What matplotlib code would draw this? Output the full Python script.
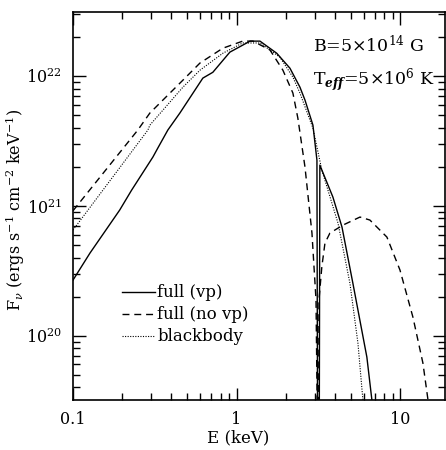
import numpy as np
import matplotlib
matplotlib.use("Agg")
from matplotlib import pyplot as plt
from matplotlib.ticker import FixedLocator, FixedFormatter, LogLocator, NullFormatter

plt.rcParams['font.family'] = ['DejaVu Serif']
plt.rcParams['mathtext.fontset'] = 'dejavuserif'

# full (vp) spectrum, with the narrow resonance notch near 3.2 keV
E_vp = [0.1, 0.127, 0.193, 0.228, 0.308, 0.33, 0.38, 0.45, 0.622, 0.716, 0.91,
        1.21, 1.39, 1.76, 2.12, 2.44, 2.62, 2.93, 3.10, 3.13, 3.20,
        3.23, 3.88, 4.41, 5.14, 6.26, 6.72, 7.0]
F_vp = [2.68e20, 4.33e20, 9.29e20, 1.32e21, 2.38e21, 2.79e21, 3.84e21, 5.19e21,
        9.65e21, 1.07e22, 1.53e22, 1.86e22, 1.86e22, 1.50e22, 1.15e22, 8.22e21,
        6.53e21, 4.19e21, 2.25e21, 1e19, 1e19,
        2.06e21, 1.17e21, 6.87e20, 2.54e20, 6.84e19, 3.19e19, 1.5e19]

# full (no vp) spectrum
E_novp = [0.1, 0.249, 0.295, 0.47, 0.597, 0.824, 1.09, 1.26, 1.60, 1.92, 2.21,
          2.37, 2.62, 2.89, 3.06, 3.14, 3.17,
          3.19, 3.32, 3.47, 3.72, 4.47, 5.68, 6.53, 8.30, 9.98, 11.97, 13.78,
          14.8, 15.5]
F_novp = [9.17e20, 3.84e21, 5.19e21, 9.31e21, 1.26e22, 1.64e22, 1.86e22,
          1.86e22, 1.59e22, 1.11e22, 7.40e21, 4.74e21, 1.99e21, 6.17e20,
          1.88e20, 1e19, 1e19,
          1.88e20, 3.38e20, 5.16e20, 6.17e20, 7.11e20, 8.20e20, 7.78e20,
          5.75e20, 3.20e20, 1.39e20, 6.15e19, 3.2e19, 1.2e19]

# blackbody
E_bb = [0.1, 0.287, 0.295, 0.47, 0.597, 0.824, 1.09, 1.39, 1.84, 2.21, 2.44,
        2.93, 3.32, 4.17, 4.93, 5.52, 5.92, 6.2]
F_bb = [6.51e20, 3.84e21, 4.19e21, 8.22e21, 1.11e22, 1.50e22, 1.80e22, 1.80e22,
        1.40e22, 9.82e21, 7.40e21, 3.97e21, 1.89e21, 7.36e20, 2.54e20, 8.77e19,
        3.2e19, 1.5e19]

x_ticks = [0.1, 1, 10]
x_ticklabels = ["0.1", "1", "10"]

fig = plt.figure(figsize=(4.46, 4.5), dpi=100)
ax = fig.add_axes([0.1637, 0.111, 0.834, 0.862])

ax.plot(E_vp, F_vp, color='black', lw=1.0, label='full (vp)')
ax.plot(E_novp, F_novp, color='black', lw=1.0, linestyle=(0, (5, 3.5)),
        label='full (no vp)')
ax.plot(E_bb, F_bb, color='black', lw=0.8, linestyle=(0, (1, 1.3)),
        label='blackbody')

ax.set_xscale('log')
ax.set_yscale('log')
ax.set_xlim(0.1, 18.8)
ax.set_ylim(3.19e19, 3.11e22)

ax.xaxis.set_major_locator(FixedLocator(x_ticks))
ax.xaxis.set_major_formatter(FixedFormatter(x_ticklabels))
ax.xaxis.set_minor_locator(LogLocator(base=10, subs=np.arange(2, 10)))
ax.xaxis.set_minor_formatter(NullFormatter())
ax.yaxis.set_minor_locator(LogLocator(base=10, subs=np.arange(2, 10)))
ax.yaxis.set_minor_formatter(NullFormatter())

ax.tick_params(which='both', direction='in', top=True, right=True,
               labelsize=11.5, width=1.0)
ax.tick_params(which='major', length=9, pad=8)
ax.tick_params(which='minor', length=5)
for s in ax.spines.values():
    s.set_linewidth(1.2)

ax.set_xlabel("E (keV)", fontsize=12)
ax.xaxis.set_label_coords(0.445, -0.075)
ax.set_ylabel(r"F$_\nu$ (ergs s$^{-1}$ cm$^{-2}$ keV$^{-1}$)", fontsize=11.5)
ax.yaxis.set_label_coords(-0.125, 0.49)

ax.text(0.645, 0.915, r"B=5$\times$10$^{14}$ G", transform=ax.transAxes,
        fontsize=12.5, ha='left', va='center')
ax.text(0.645, 0.825, r"T$_{\mathbfit{eff}}$=5$\times$10$^{6}$ K",
        transform=ax.transAxes, fontsize=12.5, ha='left', va='center')

ax.legend(loc='upper left', bbox_to_anchor=(0.132, 0.298), frameon=False,
          fontsize=12, handlelength=2.0, handletextpad=0.1, labelspacing=0.3,
          borderpad=0, borderaxespad=0)

fig.savefig("out.png", dpi=100)
